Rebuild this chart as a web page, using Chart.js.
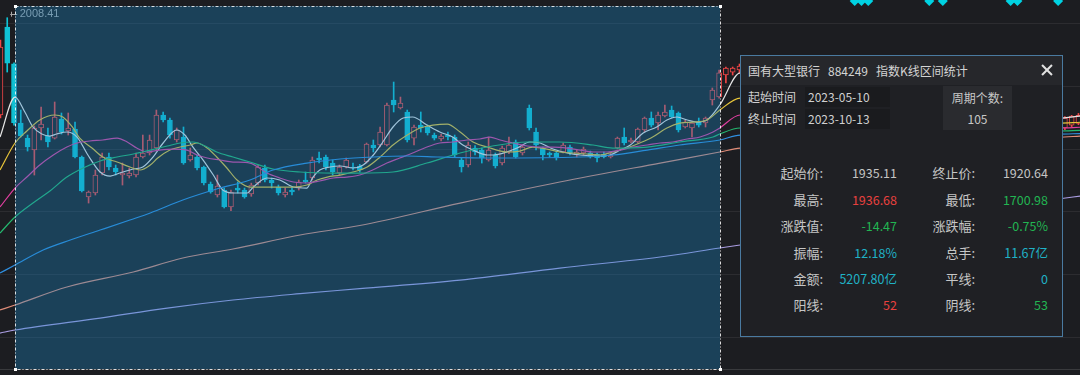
<!DOCTYPE html>
<html><head><meta charset="utf-8">
<script src="https://cdn.jsdelivr.net/npm/chart.js@4.4.0/dist/chart.umd.min.js"></script>
<style>
html,body{margin:0;padding:0;background:#1c1d21;overflow:hidden;}
#wrap{position:relative;width:1080px;height:375px;}
canvas{position:absolute;left:0;top:0;}
#panel{position:absolute;left:740px;top:55px;width:321px;height:280px;background:#1f2024;border:1px solid #4a7aa0;font-family:"Noto Sans CJK SC","Noto Sans",sans-serif;color:#c9c9c9;font-size:12px;}
#ptitle{position:absolute;left:0;top:0;width:321px;height:29px;line-height:29px;background:#26272b;color:#d4d4d4;font-size:12px;padding-left:7px;box-sizing:border-box;white-space:nowrap;}
#ptitle span+span{margin-left:8px;}
#pclose{position:absolute;left:300px;top:8px;width:12px;height:12px;}
#pclose:before,#pclose:after{content:"";position:absolute;left:-1px;top:5px;width:14px;height:2px;background:#e2e2e2;}
#pclose:before{transform:rotate(45deg);}#pclose:after{transform:rotate(-45deg);}
.tl{position:absolute;left:7px;height:20px;line-height:20px;font-size:12px;color:#cfcfcf;}
.tbox{position:absolute;left:64px;width:85px;height:20px;line-height:20px;padding-left:3px;box-sizing:border-box;background:#1a1b1e;color:#d0d0d0;font-size:12px;}
#cnt{position:absolute;left:202px;top:30px;width:69px;height:44px;background:#2a2b2f;text-align:center;color:#c8c8c8;font-size:12px;}
#cnt div{line-height:21px;}
.st{position:absolute;height:20px;line-height:20px;text-align:right;white-space:nowrap;}
.lab{font-size:13px;color:#c6c6c6;}
.val{font-size:12.5px;}
</style></head>
<body>
<div id="wrap">
<canvas id="c" width="1080" height="375"></canvas>
<div id="panel">
  <div id="ptitle"><span>国有大型银行</span><span>884249</span><span>指数K线区间统计</span></div>
  <div id="pclose"></div>
  <div class="tl" style="top:31px">起始时间</div>
  <div class="tbox" style="top:31px">2023-05-10</div>
  <div class="tl" style="top:53px">终止时间</div>
  <div class="tbox" style="top:53px">2023-10-13</div>
  <div id="cnt"><div style="padding-top:1px">周期个数:</div><div>105</div></div>
</div>
</div>
<script>
// ---- categories: trading-day index (0 = 2023-05-10, 104 = 2023-10-13)
const candleIdx = [-2,-1,0,1,2,3,4,5,6,7,8,9,10,11,12,13,14,15,16,17,18,19,20,21,22,23,24,25,26,27,28,29,30,31,32,33,34,35,36,37,38,39,40,41,42,43,44,45,46,47,48,49,50,51,52,53,54,55,56,57,58,59,60,61,62,63,64,65,66,67,68,69,70,71,72,73,74,75,76,77,78,79,80,81,82,83,84,85,86,87,88,89,90,91,92,93,94,95,96,97,98,99,100,101,102,103,104,105,106,107,155,156,157];
const opens = [1853.5,1993.6,1935.11,1840.7,1816.8,1797.7,1832.8,1820.0,1816.8,1847.1,1828.0,1831.2,1786.6,1722.9,1729.3,1761.1,1786.6,1769.1,1757.9,1756.3,1757.9,1786.6,1793.0,1800.9,1853.5,1845.5,1813.7,1818.4,1781.8,1786.6,1770.7,1743.6,1726.1,1734.0,1707.0,1737.2,1734.0,1727.7,1745.2,1769.1,1750.0,1738.8,1726.1,1734.0,1737.2,1750.0,1753.2,1785.0,1786.6,1777.0,1761.1,1770.7,1770.7,1772.3,1778.6,1805.7,1805.7,1805.7,1877.4,1864.6,1858.3,1816.8,1837.5,1834.4,1821.6,1815.3,1821.6,1818.4,1781.8,1773.9,1800.9,1797.7,1781.8,1789.8,1777.0,1794.6,1810.5,1793.0,1864.6,1826.4,1800.9,1793.0,1793.0,1794.6,1802.5,1789.8,1793.0,1793.0,1791.4,1791.4,1786.6,1800.9,1818.4,1810.5,1810.5,1829.6,1848.7,1840.7,1851.9,1861.4,1856.7,1834.4,1832.8,1842.3,1840.7,1877.4,1882.1,1917.2,1921.9,1925.1,1832.8,1837.5,1840.0];
const highs = [1972.9,2008.41,1936.68,1861.4,1821.6,1836.0,1866.2,1832.8,1874.2,1856.7,1856.7,1842.3,1788.2,1732.5,1765.9,1793.0,1793.0,1773.9,1777.0,1769.1,1793.0,1821.6,1821.6,1861.4,1858.3,1848.7,1832.8,1834.4,1800.9,1789.8,1772.3,1746.8,1757.9,1737.2,1734.0,1746.8,1737.2,1745.0,1773.9,1773.9,1753.2,1742.0,1737.2,1738.8,1750.0,1762.7,1786.6,1794.6,1789.8,1781.8,1773.9,1785.0,1777.0,1775.0,1808.9,1813.7,1834.4,1872.6,1906.0,1882.1,1861.4,1837.5,1858.3,1837.5,1824.8,1823.2,1826.4,1821.6,1785.0,1810.5,1805.0,1800.9,1818.4,1793.0,1804.1,1818.4,1813.7,1805.7,1869.4,1832.8,1802.5,1794.6,1796.1,1808.9,1805.7,1797.7,1802.5,1796.1,1793.0,1794.6,1793.0,1818.4,1832.8,1816.8,1832.8,1850.3,1858.3,1858.3,1869.4,1867.8,1858.3,1845.5,1842.3,1848.7,1850.3,1896.5,1925.1,1929.9,1929.9,1934.7,1851.0,1853.0,1856.0];
const lows = [1848.7,1921.9,1837.5,1818.4,1796.1,1757.9,1813.7,1802.5,1815.3,1823.2,1821.6,1785.0,1730.9,1713.3,1726.1,1757.9,1765.9,1757.9,1742.0,1753.2,1755.0,1785.0,1789.8,1797.7,1842.3,1816.8,1810.5,1775.0,1780.0,1765.9,1742.0,1729.0,1722.9,1705.4,1700.98,1729.3,1721.0,1724.0,1742.0,1746.8,1737.2,1726.1,1722.9,1726.1,1734.0,1745.2,1750.0,1777.0,1765.9,1757.9,1757.9,1769.1,1765.9,1762.7,1777.0,1794.6,1802.5,1804.1,1858.3,1863.0,1810.5,1805.7,1826.4,1821.6,1813.7,1812.1,1813.7,1786.6,1762.7,1770.7,1790.0,1777.0,1780.0,1769.1,1773.9,1792.0,1785.0,1789.8,1829.6,1797.7,1781.8,1786.6,1781.8,1793.0,1789.8,1786.6,1789.8,1785.0,1778.6,1785.0,1785.0,1799.3,1805.7,1808.9,1808.9,1826.4,1834.4,1829.6,1850.3,1848.7,1826.4,1832.8,1818.4,1834.4,1834.4,1869.4,1880.5,1904.4,1917.2,1920.0,1830.0,1835.0,1838.0];
const closes = [1961.8,1936.0,1840.7,1820.0,1802.5,1832.8,1839.1,1810.5,1850.3,1826.4,1832.8,1786.6,1732.5,1730.9,1757.9,1786.6,1770.7,1762.7,1761.1,1761.1,1786.6,1793.0,1813.7,1853.5,1845.5,1821.6,1829.6,1777.0,1789.8,1769.1,1745.2,1730.9,1740.4,1707.0,1730.9,1734.0,1722.9,1742.0,1770.7,1750.0,1745.2,1729.3,1730.9,1730.9,1746.8,1746.8,1781.8,1781.8,1770.7,1762.7,1770.7,1781.8,1769.1,1765.9,1807.3,1800.9,1826.4,1869.4,1869.4,1872.6,1813.7,1834.4,1832.8,1824.8,1816.8,1820.0,1818.4,1789.8,1770.7,1805.7,1794.6,1785.0,1797.7,1772.3,1800.9,1805.7,1786.6,1802.5,1832.8,1805.7,1789.8,1789.8,1785.0,1805.7,1793.0,1794.6,1799.3,1786.6,1785.0,1786.6,1789.8,1816.8,1808.9,1813.7,1831.2,1848.7,1837.5,1853.5,1858.3,1850.3,1829.6,1842.3,1840.7,1837.5,1848.7,1893.3,1920.64,1928.3,1928.3,1931.5,1848.7,1851.9,1853.0];

// ---- moving averages: [trading-day index, value]
const ma5 = [[-2.06,1818.4],[0.15,1882.1],[1.6,1858.3],[2.8,1834.4],[4.1,1823.2],[5.3,1820.0],[6.3,1823.2],[7.8,1826.4],[9.3,1818.4],[10.9,1789.8],[12.7,1762.7],[14.2,1756.3],[15.6,1761.1],[17.6,1767.5],[19.0,1770.7],[20.5,1786.6],[22.0,1808.9],[24.0,1829.6],[25.2,1821.6],[26.4,1802.5],[27.9,1781.8],[29.4,1757.9],[30.8,1734.0],[32.3,1729.3],[34.4,1729.3],[35.3,1738.8],[37.3,1753.2],[39.2,1750.0],[41.2,1738.8],[43.2,1737.2],[44.1,1754.7],[45.1,1765.9],[46.6,1770.7],[48.1,1772.3],[50.0,1769.1],[51.5,1773.9],[53.0,1789.8],[54.4,1810.5],[55.9,1834.4],[57.4,1848.7],[58.8,1850.3],[60.9,1837.5],[62.8,1826.4],[64.7,1818.4],[66.2,1805.7],[67.7,1797.7],[69.8,1789.8],[70.6,1789.8],[72.7,1794.6],[74.2,1800.9],[76.1,1810.5],[77.6,1808.9],[79.5,1799.3],[81.6,1793.0],[83.5,1789.8],[86.0,1788.2],[87.9,1789.8],[89.4,1797.7],[90.9,1805.7],[92.8,1824.8],[94.8,1834.4],[96.3,1845.5],[97.8,1850.3],[99.3,1845.5],[100.7,1842.3],[102.2,1845.5],[104.1,1869.4],[107.1,1920.4],[154,1848.7],[157.3,1851.9]];
const ma10 = [[-2.06,1765.9],[0.15,1808.9],[1.9,1828.0],[3.8,1845.5],[6.0,1853.5],[7.2,1850.3],[8.6,1834.4],[9.7,1816.8],[11.5,1800.9],[13.1,1786.6],[15.2,1778.6],[17.1,1770.7],[18.6,1765.9],[20.1,1773.9],[21.2,1785.0],[23.0,1797.7],[24.5,1802.5],[26.0,1805.7],[27.0,1808.9],[28.5,1800.9],[29.9,1786.6],[31.4,1769.1],[32.9,1750.0],[34.8,1738.8],[37.3,1738.8],[39.2,1738.8],[41.2,1738.8],[43.2,1742.0],[44.7,1750.0],[46.2,1754.7],[48.1,1757.9],[50.0,1762.7],[52.1,1770.7],[54.0,1786.6],[55.9,1805.7],[58.0,1821.6],[59.9,1832.8],[61.8,1837.5],[63.9,1839.1],[65.8,1826.4],[67.7,1810.5],[69.8,1802.5],[72.7,1794.6],[74.6,1796.1],[76.5,1802.5],[78.6,1799.3],[80.5,1794.6],[82.4,1793.0],[84.5,1791.4],[86.4,1789.8],[88.3,1794.6],[90.4,1800.9],[92.3,1808.9],[94.2,1818.4],[96.3,1832.8],[98.2,1840.7],[100.1,1842.3],[102.2,1845.5],[104.1,1861.4],[107.1,1880.5],[154,1840.7],[157.3,1842.0]];
const ma20 = [[-2.06,1707.0],[0.15,1737.2],[1.9,1754.7],[3.8,1773.9],[5.8,1789.8],[7.8,1802.5],[9.3,1808.9],[11.2,1812.1],[13.1,1813.7],[15.2,1816.8],[16.7,1810.5],[18.1,1800.9],[19.6,1794.6],[21.5,1797.7],[23.5,1799.3],[25.5,1797.7],[27.0,1789.8],[28.5,1785.0],[30.4,1781.8],[32.3,1778.6],[34.8,1777.0],[37.3,1761.1],[39.2,1753.2],[41.2,1746.8],[43.2,1745.2],[45.1,1748.4],[47.1,1753.2],[49.1,1754.7],[51.0,1757.9],[52.9,1765.9],[55.0,1777.0],[56.9,1785.0],[58.8,1793.0],[60.9,1802.5],[62.8,1808.9],[64.7,1810.5],[66.8,1813.7],[68.7,1815.3],[70.2,1818.4],[71.7,1813.7],[73.6,1808.9],[75.7,1804.1],[77.6,1802.5],[79.5,1802.5],[81.6,1800.9],[83.5,1797.7],[85.4,1794.6],[87.5,1794.6],[89.4,1797.7],[91.3,1802.5],[93.4,1805.7],[95.3,1808.9],[97.2,1810.5],[99.3,1815.3],[101.2,1818.4],[103.1,1826.4],[104.1,1832.8],[107.1,1853.5],[154,1832.8],[157.3,1834.0]];
const ma30 = [[-2.06,1665.6],[0.15,1691.0],[2.8,1713.3],[5.3,1732.5],[7.8,1754.7],[10.2,1769.1],[12.7,1780.2],[15.2,1786.6],[17.6,1791.4],[20.1,1797.7],[22.6,1804.1],[24.5,1808.9],[26.4,1810.5],[28.2,1804.1],[29.9,1794.6],[32.3,1786.6],[34.8,1778.6],[38.2,1767.5],[42.2,1762.7],[47.1,1761.1],[51.0,1761.1],[55.9,1762.7],[60.9,1777.0],[65.8,1793.0],[70.6,1804.1],[75.7,1810.5],[80.5,1810.5],[85.4,1805.7],[88.3,1800.9],[93.4,1802.5],[98.2,1810.5],[103.1,1818.4],[104.1,1823.2],[107.1,1832.8],[154,1828.0],[157.3,1829.0]];
const ma60 = [[-2.06,1601.9],[0.15,1614.6],[4.3,1638.5],[8.3,1654.4],[12.7,1670.3],[17.1,1686.3],[20.1,1697.4],[24.9,1718.1],[29.9,1735.6],[34.8,1750.0],[38.2,1765.9],[43.2,1777.0],[48.1,1783.4],[53.0,1786.6],[58.0,1788.2],[62.8,1786.6],[70.2,1785.0],[83.5,1786.6],[88.3,1789.8],[93.4,1797.7],[98.2,1805.7],[104.1,1813.7],[107.1,1821.6],[154,1823.2],[157.3,1824.0]];
const ma120 = [[-2.06,1543.0],[0.15,1550.9],[7.8,1579.6],[17.6,1603.5],[24.9,1625.8],[32.3,1640.1],[42.2,1662.4],[51.0,1677.5],[65.8,1713.3],[80.5,1746.8],[95.3,1777.0],[104.1,1794.6],[107.1,1800.9],[154,1818.0],[157.3,1820.0]];
const ma250 = [[-2.06,1506.3],[0.15,1511.1],[12.7,1530.2],[22.6,1546.1],[32.3,1558.9],[42.2,1569.0],[51.0,1577.0],[65.8,1590.7],[80.5,1609.8],[95.3,1627.4],[104.1,1641.7],[107.1,1646.5],[154,1719.7],[157.3,1724.5]];

// ---- signal markers along the top edge, price grid, selection, stats
const signalIdx = [124,125,126,135,137,147,148,154];
const signalLevel = 2035;
const gridPrices = [2000,1900,1800,1700,1600,1500];
const selStart = 0, selEnd = 104;
const maxLabel = {idx:-1, value:2008.41, text:'2008.41'};
const statLabelsL = ['起始价:','最高:','涨跌值:','振幅:','金额:','阳线:'];
const statValuesL = ['1935.11','1936.68','-14.47','12.18%','5207.80亿','52'];
const statLabelsR = ['终止价:','最低:','涨跌幅:','总手:','平线:','阴线:'];
const statValuesR = ['1920.64','1700.98','-0.75%','11.67亿','0','53'];
const statColorsL = ['#c4c4c4','#e8403f','#22b552','#1fb2c6','#1fb2c6','#e8403f'];
const statColorsR = ['#c4c4c4','#22b552','#22b552','#1fb2c6','#1fb2c6','#22b552'];

// ---- panel stats
const panel = document.getElementById('panel');
const rowCenters = [117,143.5,170,196.5,223,249];
rowCenters.forEach((cy,k)=>{
  const add=(txt,right,cls,color)=>{const d=document.createElement('div');d.className='st '+cls;d.style.top=(cy-10)+'px';d.style.right=right+'px';d.textContent=txt;if(color)d.style.color=color;panel.appendChild(d);};
  add(statLabelsL[k],239,'lab');
  add(statValuesL[k],165,'val',statColorsL[k]);
  add(statLabelsR[k],87,'lab');
  add(statValuesR[k],14,'val',statColorsR[k]);
});

// ---- chart
const BG='#1c1d21', RED='#f04646', CYAN='#10c2d4';
const isUp = candleIdx.map((x,k)=>closes[k]>=opens[k]);
const bodyData = candleIdx.map((x,k)=>({x, y:[Math.min(opens[k],closes[k]), Math.max(opens[k],closes[k])]}));
const wickData = candleIdx.map((x,k)=>({x, y:[lows[k], highs[k]]}));
const line=(pts,color)=>({type:'line',data:pts.map(p=>({x:p[0],y:p[1]})),borderColor:color,borderWidth:1.2,pointRadius:0,cubicInterpolationMode:'monotone',order:1});

const gridPlugin={id:'gridLines',beforeDatasetsDraw(chart){
  const {ctx,chartArea,scales:{y}}=chart;ctx.save();
  ctx.strokeStyle='rgba(255,255,255,0.07)';ctx.lineWidth=1;
  gridPrices.forEach(p=>{const yy=Math.round(y.getPixelForValue(p))+0.5;ctx.beginPath();ctx.moveTo(0,yy);ctx.lineTo(chart.width,yy);ctx.stroke();});
  ctx.strokeStyle='rgba(255,255,255,0.13)';const b=Math.round(chartArea.bottom)+0.5;
  ctx.beginPath();ctx.moveTo(0,b);ctx.lineTo(chart.width,b);ctx.stroke();
  ctx.restore();}};

const selPlugin={id:'selection',afterDatasetsDraw(chart){
  const {ctx,chartArea,scales:{x,y}}=chart;ctx.save();
  // max label
  const hx=x.getPixelForValue(maxLabel.idx), hy=y.getPixelForValue(maxLabel.value)-3.5;
  ctx.strokeStyle='#a8a8a8';ctx.lineWidth=1;
  ctx.beginPath();ctx.moveTo(hx+3,Math.round(hy)+0.5);ctx.lineTo(hx+10,Math.round(hy)+0.5);ctx.stroke();
  ctx.beginPath();ctx.moveTo(Math.round(hx+4)+0.5,hy-2.5);ctx.lineTo(Math.round(hx+4)+0.5,hy+2.5);ctx.stroke();
  ctx.fillStyle='#a8a8a8';ctx.font='11px "Liberation Sans", Arial, sans-serif';ctx.textBaseline='middle';
  ctx.fillText(maxLabel.text,hx+12.5,hy);
  // overlay
  const x0=Math.round(x.getPixelForValue(selStart))+1, x1=Math.round(x.getPixelForValue(selEnd))+1;
  const t=Math.round(chartArea.top), b=Math.round(chartArea.bottom);
  ctx.fillStyle='rgba(25,135,200,0.34)';ctx.fillRect(x0,t,x1-x0,b-t);
  ctx.strokeStyle='rgba(255,255,255,0.85)';ctx.setLineDash([3,2,1,2]);
  ctx.strokeRect(x0+0.5,t+0.5,x1-x0,b-t);ctx.setLineDash([]);
  ctx.fillStyle='#ffffff';
  [[x0,t],[x1,t],[x0,b],[x1,b]].forEach(([a,c])=>ctx.fillRect(a-1,c-1,3,3));
  ctx.restore();}};

new Chart(document.getElementById('c'),{
  type:'bar',
  data:{datasets:[
    {type:'bar',data:wickData,backgroundColor:c=>isUp[c.dataIndex]?RED:CYAN,barThickness:1,grouped:false,order:6},
    {type:'bar',data:bodyData,backgroundColor:c=>isUp[c.dataIndex]?BG:CYAN,borderColor:c=>isUp[c.dataIndex]?RED:CYAN,borderWidth:1,borderSkipped:false,barThickness:5,grouped:false,minBarLength:1,order:5},
    line(ma250,'#aa9de2'),line(ma120,'#e08c78'),line(ma60,'#2f8fe0'),line(ma30,'#25b870'),line(ma20,'#e03fa0'),line(ma10,'#e8c53a'),line(ma5,'#e6e6e6'),
    {type:'scatter',data:signalIdx.map(i=>({x:i,y:signalLevel})),pointStyle:'rectRot',pointRadius:5,backgroundColor:'#00d2e2',borderWidth:0,clip:false,order:0}
  ]},
  options:{responsive:false,animation:false,events:[],
    layout:{autoPadding:false,padding:{top:6,bottom:6,left:0,right:0}},
    plugins:{legend:{display:false},tooltip:{enabled:false}},
    scales:{
      x:{type:'linear',min:-2.065,max:157.23,display:false,offset:false,grid:{display:false}},
      y:{min:1449.04,max:2027.07,display:false}
    }},
  plugins:[gridPlugin,selPlugin]
});
</script>
</body></html>
